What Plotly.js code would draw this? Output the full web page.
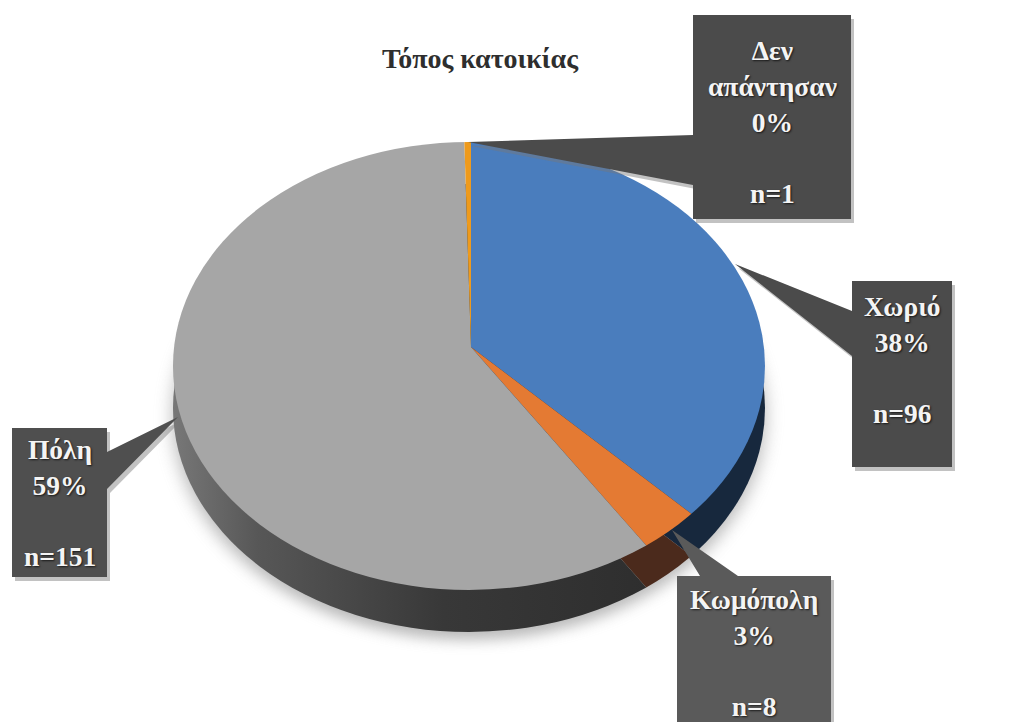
<!DOCTYPE html>
<html>
<head>
<meta charset="utf-8">
<script src="https://cdn.plot.ly/plotly-3.0.1.min.js"></script>
<style>html,body{margin:0;padding:0;background:#fff}#chart{width:1012px;height:722px}</style>
</head>
<body>
<div id="chart"></div>
<script>
const categories = ['Χωριό', 'Κωμόπολη', 'Πόλη', 'Δεν<br>απάντησαν'];
const counts = [96, 8, 151, 1];
const percents = [38, 3, 59, 0];
const topColors = ['#4a7dbd', '#e47a33', '#a6a6a6', '#ee9a1c'];
const sideColors = ['#17283d', '#4b2a1c', '#3a3a3a', '#3a3a3a'];

const W = 1012, H = 722;
const px = x => x / W, py = y => 1 - y / H;
const FONT = '"Liberation Serif", "Times New Roman", serif';

// Callout geometry in page pixels: box, pointer tip, pointer base on the box edge
const callouts = [
  {box: [852, 281, 952, 467], fill: '#4b4b4b', tip: [735, 264], base: [[852, 311], [852, 356]], textTop: 289},
  {box: [677, 576, 831, 730], fill: '#5a5a5a', tip: [672, 530], base: [[738, 576], [700, 576]], textTop: 582},
  {box: [12, 428, 107, 577], fill: '#4f4f4f', tip: [178, 417], base: [[107, 489], [107, 452]], textTop: 432},
  {box: [693, 15, 851, 219], fill: '#4b4b4b', tip: [468, 142], base: [[693, 135], [693, 185]], textTop: 33}
];

function calloutPath(c, dx, dy) {
  const [x0, y0, x1, y1] = c.box;
  const p = (x, y) => (x + dx) / W + ' ' + (1 - (y + dy) / H);
  const left = c.base[0][0] === x0, right = c.base[0][0] === x1;
  let pts;
  if (left) pts = [[x0, y0], [x1, y0], [x1, y1], [x0, y1], c.base[1], c.tip, c.base[0]];
  else if (right) pts = [[x0, y0], [x1, y0], c.base[1], c.tip, c.base[0], [x1, y1], [x0, y1]];
  else pts = [[x0, y0], c.base[1], c.tip, c.base[0], [x1, y0], [x1, y1], [x0, y1]];
  return 'M' + pts.map(q => p(q[0], q[1])).join(' L') + ' Z';
}

const shapes = [];
callouts.forEach(c => shapes.push({type: 'path', xref: 'paper', yref: 'paper', path: calloutPath(c, 3, 4), fillcolor: 'rgba(120,120,120,0.45)', line: {width: 0}}));
callouts.forEach(c => shapes.push({type: 'path', xref: 'paper', yref: 'paper', path: calloutPath(c, 0, 0), fillcolor: c.fill, line: {width: 0}}));

const annotations = callouts.map((c, i) => ({
  xref: 'paper', yref: 'paper', showarrow: false,
  x: px((c.box[0] + c.box[2]) / 2), y: py(c.textTop), xanchor: 'center', yanchor: 'top',
  text: '<b>' + categories[i] + '<br>' + percents[i] + '%<br><br>n=' + counts[i] + '</b>',
  align: 'center',
  font: {family: FONT, size: 27.5, color: '#f4f4f4', shadow: '1px 1px 2px rgba(0,0,0,0.7)'}
}));

const domain = {x: [(W / 2 - 296) / W, (W / 2 + 296) / W], y: [(H / 2 - 296) / H, (H / 2 + 296) / H]};
const slice = colors => ({
  type: 'pie', values: counts, labels: categories, sort: false, direction: 'clockwise', rotation: 0,
  textinfo: 'none', hoverinfo: 'skip', showlegend: false, domain,
  marker: {colors, line: {width: 0}}
});
const shadowColors = counts.map(() => '#8a8a8a');
const traces = [slice(shadowColors), slice(sideColors), slice(topColors)];

const layout = {
  width: W, height: H, margin: {l: 0, r: 0, t: 0, b: 0},
  paper_bgcolor: '#ffffff', showlegend: false,
  title: {text: '<b>Τόπος κατοικίας</b>', x: 480 / W, y: py(58), xanchor: 'center', yanchor: 'middle', xref: 'paper', yref: 'paper',
          font: {family: FONT, size: 28, color: '#2e2e2e'}},
  shapes, annotations
};

Plotly.newPlot('chart', traces, layout, {displayModeBar: false, staticPlot: true}).then(gd => {
  const svg = gd.querySelector('.main-svg');
  const ns = 'http://www.w3.org/2000/svg';
  const defs = svg.querySelector('defs') || svg.insertBefore(document.createElementNS(ns, 'defs'), svg.firstChild);
  const grad = document.createElementNS(ns, 'linearGradient');
  grad.id = 'sideGrad';
  [['0.14', '#7d7d7d'], ['0.3', '#575757'], ['0.6', '#383838'], ['1', '#2c2c2c']].forEach(s => {
    const st = document.createElementNS(ns, 'stop');
    st.setAttribute('offset', s[0]); st.setAttribute('stop-color', s[1]); grad.appendChild(st);
  });
  defs.appendChild(grad);
  const blur = document.createElementNS(ns, 'filter');
  blur.id = 'softShadow';
  ['x', 'y'].forEach(a => blur.setAttribute(a, '-20%'));
  ['width', 'height'].forEach(a => blur.setAttribute(a, '140%'));
  const fe = document.createElementNS(ns, 'feGaussianBlur');
  fe.setAttribute('stdDeviation', '9');
  blur.appendChild(fe);
  defs.appendChild(blur);

  // The disc is drawn in perspective: visible ellipse (469, cy; 296 x 224), slice apex above its centre.
  const squash = 224 / 296, grow = 1.35;
  const apexX = 471, apexY = 347, rimCy = 366, depth = 42;
  const addClip = (id, cy) => {
    const cp = document.createElementNS(ns, 'clipPath');
    cp.id = id;
    const el = document.createElementNS(ns, 'ellipse');
    el.setAttribute('cx', 469); el.setAttribute('cy', cy);
    el.setAttribute('rx', 296); el.setAttribute('ry', 224);
    cp.appendChild(el); defs.appendChild(cp);
  };
  addClip('sideClip', rimCy + depth);
  addClip('topClip', rimCy);

  const groups = gd.querySelectorAll('.pielayer .trace');
  const place = (g, cx, cy, s) => g.setAttribute('transform',
    'translate(' + cx + ',' + cy + ') scale(' + s + ',' + (s * squash) + ') translate(' + (-W / 2) + ',' + (-H / 2) + ')');
  const wrapIn = (g, clipId) => {
    const w = document.createElementNS(ns, 'g');
    w.setAttribute('clip-path', 'url(#' + clipId + ')');
    g.parentNode.insertBefore(w, g);
    w.appendChild(g);
  };
  place(groups[0], 469, rimCy + depth + 8, 1);
  groups[0].setAttribute('filter', 'url(#softShadow)');
  groups[0].style.opacity = 0.6;
  place(groups[1], apexX, apexY + depth, grow);
  wrapIn(groups[1], 'sideClip');
  place(groups[2], apexX, apexY, grow);
  wrapIn(groups[2], 'topClip');
  const sidePaths = groups[1].querySelectorAll('.surface');
  if (sidePaths[2]) sidePaths[2].style.fill = 'url(#sideGrad)';
});
</script>
</body>
</html>
